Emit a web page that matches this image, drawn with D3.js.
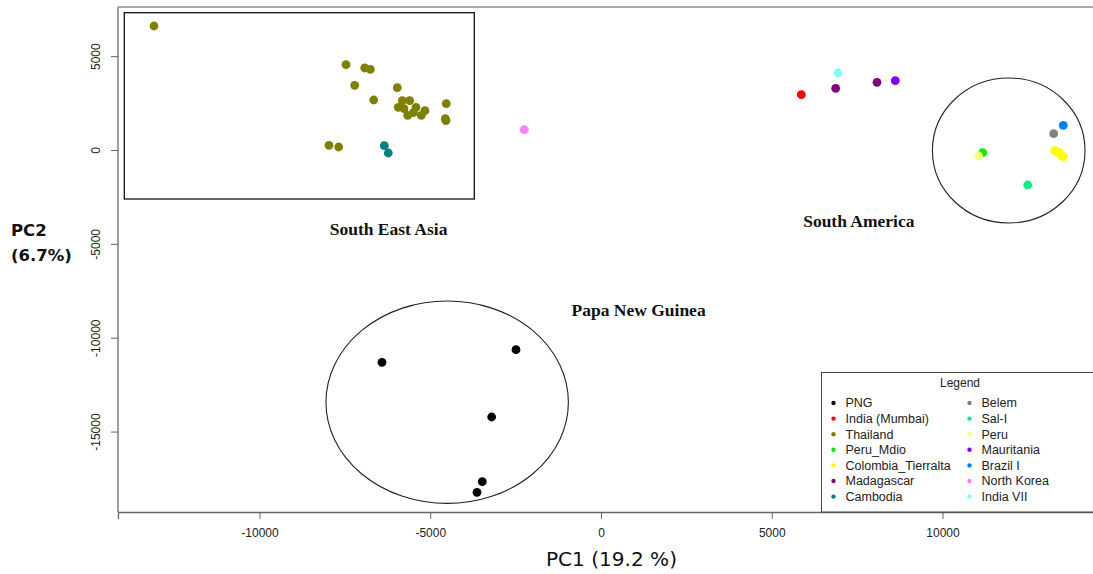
<!DOCTYPE html>
<html>
<head>
<meta charset="utf-8">
<script src="https://cdn.jsdelivr.net/npm/d3@7"></script>
<style>
  html, body { margin: 0; padding: 0; background: #fff; }
  svg { display: block; }
</style>
</head>
<body>
<svg id="chart" width="1093" height="574"></svg>
<script>
// ---------- data (PC1, PC2) ----------
const PNG = [[-6413, -11311], [-2489, -10639], [-3201, -14225], [-3476, -17672], [-3631, -18237]];
const IndiaMumbai = [[5866, 2946]];
const Thailand = [
  [-13089, 6606], [-7467, 4545], [-6919, 4369], [-6755, 4300], [-7212, 3447],
  [-5965, 3319], [-6656, 2664], [-5818, 2627], [-5602, 2627], [-5936, 2275],
  [-5769, 2200], [-5417, 2275], [-5496, 1987], [-5154, 2094], [-5660, 1849],
  [-5262, 1849], [-4530, 2467], [-4559, 1668], [-4539, 1561], [-7965, 250], [-7681, 160]
];
const PeruMdio = [[11177, -144]];
const ColombiaTierralta = [[13285, -37], [13411, -144], [13470, -282], [13537, -357], [13350, -90]];
const Madagascar = [[6872, 3287], [8082, 3607]];
const Cambodia = [[-6345, 229], [-6228, -160]];
const Belem = [[13256, 868]];
const SalI = [[12495, -1865]];
const Peru = [[11060, -320]];
const Mauritania = [[8618, 3692]];
const BrazilI = [[13537, 1316]];
const NorthKorea = [[-2246, 1082]];
const IndiaVII = [[6940, 4102]];

const groupNames = ["PNG", "India (Mumbai)", "Thailand", "Peru_Mdio", "Colombia_Tierralta",
  "Madagascar", "Cambodia", "Belem", "Sal-I", "Peru", "Mauritania", "Brazil I", "North Korea", "India VII"];
const groupColors = ["#000000", "#ff0000", "#808000", "#00ee00", "#ffff00",
  "#800080", "#008080", "#808080", "#00f080", "#ffff80", "#8000ff", "#0080ff", "#ff80ff", "#80ffff"];
const groupPoints = [PNG, IndiaMumbai, Thailand, PeruMdio, ColombiaTierralta,
  Madagascar, Cambodia, Belem, SalI, Peru, Mauritania, BrazilI, NorthKorea, IndiaVII];

const xTicks = [-10000, -5000, 0, 5000, 10000];
const yTicks = [-15000, -10000, -5000, 0, 5000];

// annotations (data units)
const ellipses = [
  { cx: -4504, cy: -13437, rx: 3549, ry: 5391 },   // Papa New Guinea
  { cx: 11939, cy: -27, rx: 2234, ry: 3863 }       // South America
];
const insetRect = { x0: -13959, x1: -3710, y0: -2611, y1: 7315 };
const regionLabels = [
  { text: "South East Asia", x: -6220, y: -4520 },
  { text: "Papa New Guinea", x: 1100, y: -8870 },
  { text: "South America", x: 7550, y: -4080 }
];

// ---------- scales ----------
const svg = d3.select("#chart");
const x = d3.scaleLinear().domain([-14143, 14612]).range([118, 1100]);
const y = d3.scaleLinear().domain([-19286, 7618]).range([512, 7]);
const fmt = d => String(d);

// frame
svg.append("line").attr("x1", 118).attr("x2", 1100).attr("y1", y.range()[1]).attr("y2", y.range()[1])
  .attr("stroke", "#a8a8a8").attr("stroke-width", 2);
svg.append("line").attr("x1", 118).attr("x2", 118).attr("y1", 7).attr("y2", 512)
  .attr("stroke", "#888").attr("stroke-width", 1.6);

// x axis
const xAxis = svg.append("g").attr("transform", "translate(0,512)")
  .call(d3.axisBottom(x).tickValues(xTicks).tickSize(7).tickPadding(9).tickFormat(fmt));
xAxis.select(".domain").attr("stroke", "#666").attr("stroke-width", 1.3);
xAxis.selectAll(".tick line").attr("stroke", "#666");
xAxis.selectAll("text").attr("font-family", "Liberation Sans, Arial, sans-serif").attr("font-size", 12).attr("fill", "#222");

// y axis
const yAxis = svg.append("g").attr("transform", "translate(118,0)")
  .call(d3.axisLeft(y).tickValues(yTicks).tickSize(7).tickFormat(fmt));
yAxis.select(".domain").remove();
yAxis.selectAll(".tick line").attr("stroke", "#666");
yAxis.selectAll("text")
  .attr("font-family", "Liberation Sans, Arial, sans-serif").attr("font-size", 12).attr("fill", "#222")
  .attr("text-anchor", "middle").attr("x", 0).attr("dy", 0)
  .attr("transform", "translate(-18,0) rotate(-90)");

// axis titles
svg.append("text").attr("x", 546).attr("y", 566)
  .attr("font-family", "DejaVu Sans Condensed, DejaVu Sans, sans-serif").attr("font-stretch", "condensed")
  .attr("font-size", 20).attr("fill", "#111")
  .attr("textLength", 131).attr("lengthAdjust", "spacingAndGlyphs")
  .text("PC1 (19.2 %)");
const pc2 = svg.append("text").attr("font-family", "DejaVu Sans, sans-serif").attr("font-weight", "bold")
  .attr("font-size", 16.5).attr("fill", "#111");
pc2.append("tspan").attr("x", 11).attr("y", 236).text("PC2");
pc2.append("tspan").attr("x", 11).attr("y", 261).text("(6.7%)");

// inset rectangle (South East Asia)
svg.append("rect")
  .attr("x", x(insetRect.x0)).attr("y", y(insetRect.y1))
  .attr("width", x(insetRect.x1) - x(insetRect.x0)).attr("height", y(insetRect.y0) - y(insetRect.y1))
  .attr("fill", "none").attr("stroke", "#111").attr("stroke-width", 1.3);

// ellipses
svg.selectAll("ellipse.region").data(ellipses).enter().append("ellipse")
  .attr("cx", d => x(d.cx)).attr("cy", d => y(d.cy))
  .attr("rx", d => x(d.cx + d.rx) - x(d.cx)).attr("ry", d => y(d.cy - d.ry) - y(d.cy))
  .attr("fill", "none").attr("stroke", "#222").attr("stroke-width", 1.1);

// region labels
svg.selectAll("text.region").data(regionLabels).enter().append("text")
  .attr("x", d => x(d.x)).attr("y", d => y(d.y)).attr("text-anchor", "middle")
  .attr("font-family", "Liberation Serif, DejaVu Serif, serif").attr("font-weight", "bold")
  .attr("font-size", 17.5).attr("fill", "#111").text(d => d.text);

// points
groupPoints.forEach((pts, i) => {
  svg.append("g").selectAll("circle").data(pts).enter().append("circle")
    .attr("cx", d => x(d[0])).attr("cy", d => y(d[1])).attr("r", 4.4)
    .attr("fill", groupColors[i]);
});

// legend
const lg = svg.append("g");
lg.append("rect").attr("x", 821.5).attr("y", 372.5).attr("width", 300).attr("height", 139.5)
  .attr("fill", "#fff").attr("stroke", "#444").attr("stroke-width", 1);
lg.append("text").attr("x", 960).attr("y", 386.5).attr("text-anchor", "middle")
  .attr("font-family", "Liberation Sans, Arial, sans-serif").attr("font-size", 12).attr("fill", "#222")
  .text("Legend");
groupNames.forEach((name, i) => {
  const col = Math.floor(i / 7), row = i % 7;
  const bx = col === 0 ? 833.5 : 969.5;
  const by = 403 + row * 15.6;
  lg.append("circle").attr("cx", bx).attr("cy", by).attr("r", 2.2).attr("fill", groupColors[i]);
  lg.append("text").attr("x", bx + 12).attr("y", by + 4.3)
    .attr("font-family", "Liberation Sans, Arial, sans-serif").attr("font-size", 12.5).attr("fill", "#222")
    .text(name);
});
</script>
</body>
</html>
